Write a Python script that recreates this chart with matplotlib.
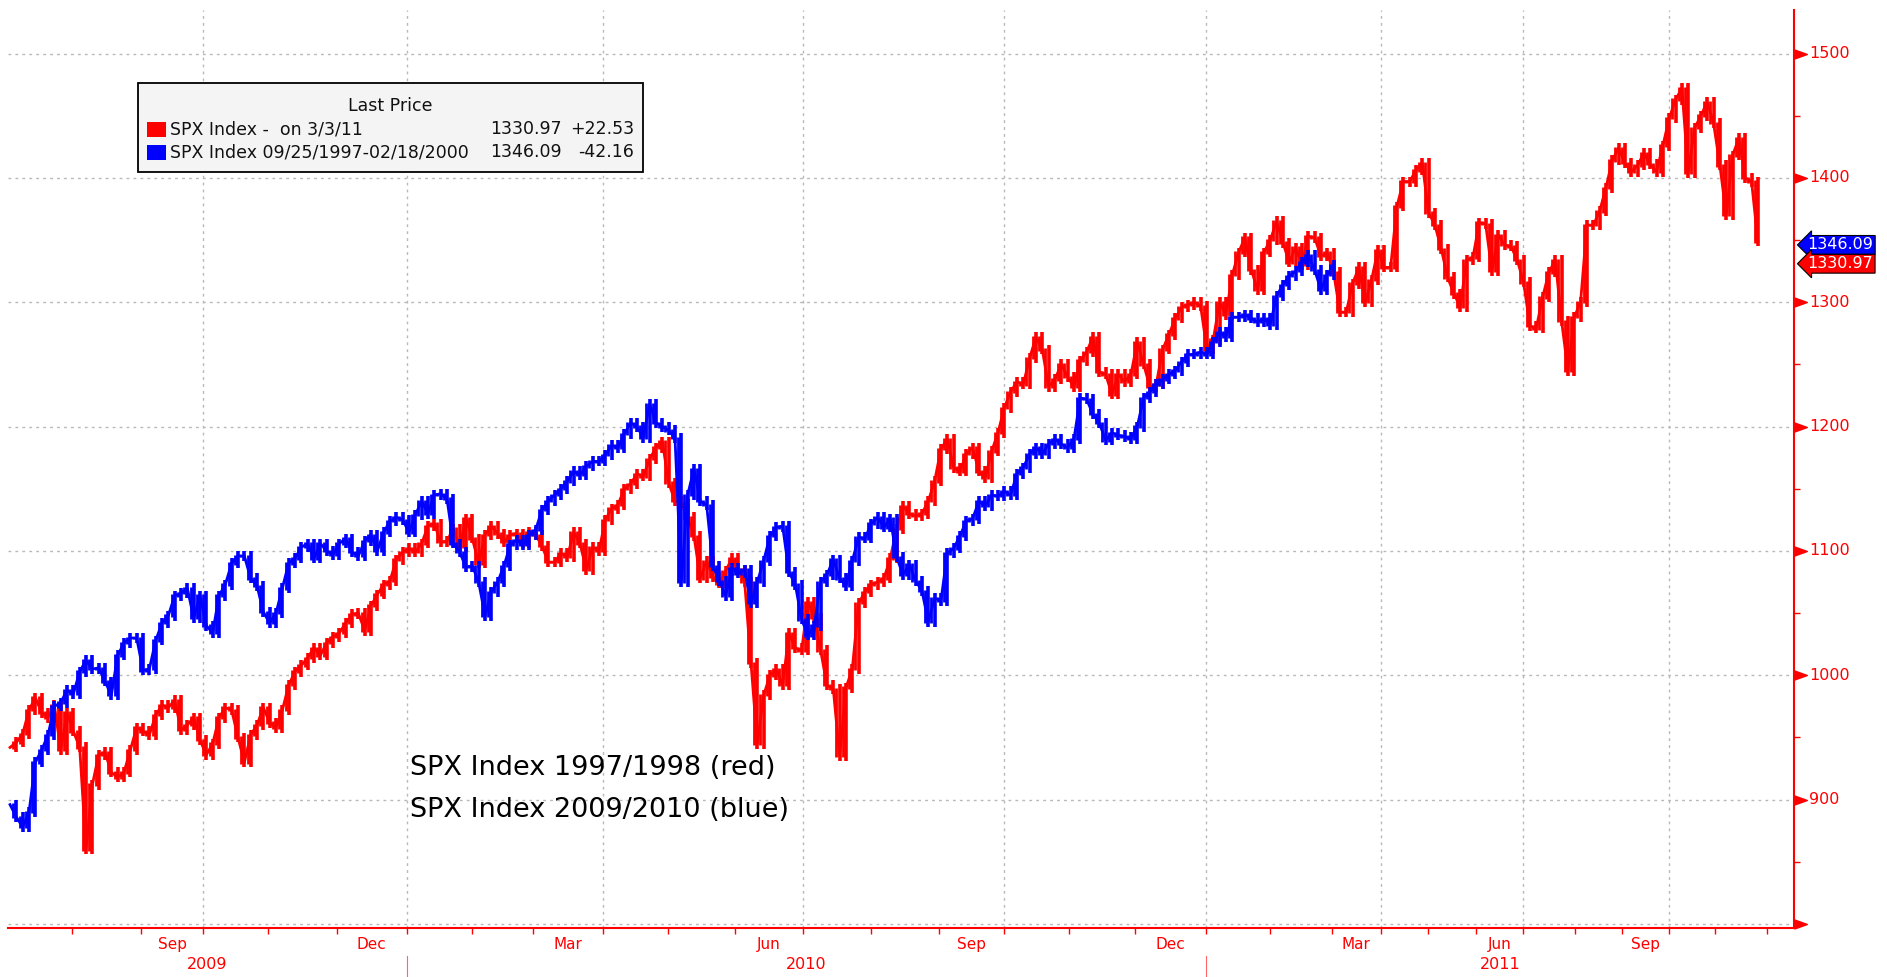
import numpy as np
import matplotlib
matplotlib.use("Agg")
import matplotlib.pyplot as plt
import matplotlib.transforms as mtransforms
from matplotlib.patches import Rectangle

red_vals = [942, 946, 953, 972, 982, 970, 966, 976, 940, 970, 955, 942, 860, 912, 936, 938,
            922, 918, 922, 940, 958, 955, 952, 968, 976, 974, 980, 956, 960, 966, 948, 936,
            945, 966, 974, 972, 950, 930, 952, 960, 974, 962, 958, 972, 992, 1003, 1008, 1014,
            1022, 1016, 1026, 1031, 1034, 1042, 1049, 1050, 1036, 1056, 1065, 1073, 1076, 1093,
            1099, 1102, 1099, 1106, 1120, 1122, 1107, 1108, 1118, 1103, 1126, 1110, 1090, 1113,
            1120, 1114, 1107, 1113, 1114, 1106, 1115, 1113, 1104, 1091, 1091, 1098, 1095, 1115,
            1106, 1085, 1103, 1100, 1125,
            1134, 1137, 1150, 1154, 1162, 1160, 1174, 1183, 1188, 1155, 1140, 1138, 1127, 1112,
            1078, 1092, 1079, 1074, 1084, 1094, 1085, 1075, 1010, 945, 984, 1000, 1005, 992,
            1034, 1022, 1020, 1059, 1046, 1020, 992, 989, 935, 990, 1005, 1058, 1067, 1073, 1075,
            1078, 1094, 1118, 1136, 1130,
            1128, 1130, 1140, 1156, 1182, 1190, 1167, 1164, 1178, 1183, 1164, 1159, 1180, 1195,
            1215, 1228, 1236, 1234, 1255, 1272, 1262, 1232, 1238, 1250, 1240, 1232, 1253, 1260,
            1272, 1244, 1242, 1226, 1242, 1236, 1242, 1268, 1250, 1232, 1234, 1262, 1274, 1287,
            1296, 1298, 1300, 1297, 1262,
            1270, 1300, 1290, 1322, 1340, 1352, 1326, 1310, 1340, 1350, 1365, 1348, 1332, 1344,
            1330, 1353, 1352, 1337, 1340, 1324, 1292, 1292, 1315, 1328, 1300, 1318, 1342, 1328,
            1328, 1377, 1397, 1397, 1406, 1412, 1372, 1362, 1343, 1320, 1307, 1296, 1334, 1336,
            1364, 1363, 1325, 1354, 1346,
            1345, 1334, 1316, 1281, 1279, 1304, 1324, 1334, 1285, 1245, 1288, 1300, 1362, 1362,
            1373, 1392, 1414, 1424, 1412, 1405, 1410, 1420, 1411, 1405, 1426, 1448, 1463, 1472,
            1404, 1440, 1450, 1461, 1444, 1410, 1370, 1418, 1432, 1400, 1397, 1349]

blue_vals = [896, 886, 878, 890, 930, 940, 952, 975, 978, 988, 985, 1003, 1012, 1005, 1006, 995,
             984, 1016, 1026, 1030, 1030, 1004, 1005, 1028, 1042, 1048, 1064, 1066, 1070, 1046,
             1064, 1040, 1034, 1064, 1073, 1090, 1096, 1096, 1078, 1072, 1051, 1042, 1050, 1070,
             1090, 1094, 1103, 1106,
             1094, 1106, 1100, 1097, 1106, 1110, 1099, 1096, 1108, 1113, 1100, 1115, 1124, 1127,
             1125, 1115, 1129, 1140, 1130, 1145, 1146, 1142, 1106, 1099, 1087, 1088, 1075, 1048,
             1067, 1075, 1088, 1105, 1109, 1105, 1113, 1117, 1133, 1140, 1145, 1150, 1156, 1164,
             1161, 1168, 1172, 1172, 1177,
             1185, 1183, 1194, 1203, 1200, 1191, 1218, 1203, 1200, 1197, 1191, 1075, 1145, 1166,
             1140, 1137, 1088, 1076, 1064, 1086, 1082, 1085, 1058, 1075, 1092, 1112, 1119, 1120,
             1083, 1073, 1045, 1032, 1040, 1075, 1081, 1093, 1078, 1072, 1092, 1111, 1110, 1122,
             1127, 1119, 1126, 1095, 1081, 1089,
             1076, 1068, 1043, 1062, 1060, 1098, 1102, 1112, 1124, 1126, 1140, 1136, 1145, 1144,
             1148, 1145, 1162, 1167, 1178, 1183, 1178, 1186, 1190, 1186, 1183, 1190, 1223, 1222,
             1210, 1203, 1189, 1195, 1193, 1192, 1190, 1200, 1223, 1228, 1234, 1238, 1242, 1245,
             1252, 1258, 1258, 1260, 1258,
             1268, 1276, 1272, 1288, 1288, 1290, 1287, 1284, 1287, 1282, 1305, 1314, 1321, 1325,
             1332, 1338, 1326, 1310, 1322, 1330]

# month boundaries on the bar axis (Aug 2009 .. Dec 2011)
month_starts = [9.71, 20.72, 30.55, 40.80, 51.62, 62.61, 72.95, 82.61, 93.64, 103.95, 114.46,
                125.28, 135.91, 146.71, 156.89, 167.16, 177.64, 188.84, 199.01, 208.74, 216.46,
                223.90, 231.43, 238.97, 247.16, 254.60, 261.99, 269.19, 277.40]
month_names = ["Aug", "Sep", "Oct", "Nov", "Dec",
               "Jan", "Feb", "Mar", "Apr", "May", "Jun", "Jul", "Aug", "Sep", "Oct", "Nov", "Dec",
               "Jan", "Feb", "Mar", "Apr", "May", "Jun", "Jul", "Aug", "Sep", "Oct", "Nov", "Dec"]
years = ["2009", "2010", "2011"]
y_ticks = [800, 900, 1000, 1100, 1200, 1300, 1400, 1500]

legend_rows = [("SPX Index -  on 3/3/11", "1330.97", "+22.53", "#ff0000"),
               ("SPX Index 09/25/1997-02/18/2000", "1346.09", "-42.16", "#0000ff")]
last_red = 1330.97
last_blue = 1346.09

RED = "#ff0000"
BLUE = "#0000ff"
GRID = "#b8b8b8"

fig = plt.figure(figsize=(18.87, 9.77), dpi=100)
ax = fig.add_axes([8 / 1887, 1 - 928 / 977, 1786 / 1887, 918 / 977])
xmin, xmax = -0.32, 281.7
ax.set_xlim(xmin, xmax)
ax.set_ylim(796.8, 1535)


def draw_bars(vals, color):
    v = np.asarray(vals, dtype=float)
    x = np.arange(len(v))
    lo = np.minimum(v[:-1], v[1:]) - 4
    hi = np.maximum(v[:-1], v[1:]) + 4
    ax.vlines(x[1:], lo, hi, color=color, lw=2.6, zorder=3)
    ax.vlines(x[1:] - 0.5, lo + 3, hi - 3, color=color, lw=2.0, zorder=3)
    ax.plot(x, v, color=color, lw=2.0, zorder=3)


# grid
for yv in y_ticks:
    ax.axhline(yv, color=GRID, lw=1, ls=(0, (2, 3)), zorder=1)
quarter_starts = [p for p, m in zip(month_starts, month_names) if m in ("Oct", "Jan", "Apr", "Jul")]
for xv in quarter_starts:
    ax.axvline(xv, color=GRID, lw=1, ls=(0, (2, 3)), zorder=1)

draw_bars(red_vals, RED)
draw_bars(blue_vals, BLUE)

# spines
for s in ("left", "top"):
    ax.spines[s].set_visible(False)
for s in ("right", "bottom"):
    ax.spines[s].set_color(RED)
    ax.spines[s].set_linewidth(1.5)

# x axis: month ticks, labels, years
ax.set_xticks(month_starts)
ax.set_xticklabels([])
ax.tick_params(axis="x", colors=RED, length=4, width=1, direction="out")
bt = mtransforms.blended_transform_factory(ax.transData, ax.transAxes)
labelled = ("Sep", "Dec", "Mar", "Jun")
for i, m in enumerate(month_names[:-1]):
    if m in labelled:
        mid = (month_starts[i] + month_starts[i + 1]) / 2
        ax.text(mid, -0.0175, m, transform=bt, ha="center", va="center",
                color=RED, fontsize=11)
jan_pos = [p for p, m in zip(month_starts, month_names) if m == "Jan"]
edges = [xmin] + jan_pos + [xmax]
for i, yr in enumerate(years):
    ax.text((edges[i] + edges[i + 1]) / 2, -0.0395, yr, transform=bt, ha="center",
            va="center", color=RED, fontsize=11.5)
for p in jan_pos:
    ax.plot([p, p], [-0.031, -0.06], transform=bt, color=RED, lw=0.8, alpha=0.6,
            clip_on=False)

# y axis on the right with triangle ticks
ax.yaxis.tick_right()
ax.set_yticks(y_ticks)
ax.set_yticklabels([])
ax.tick_params(axis="y", which="major", length=0)
ax.set_yticks([850, 950, 1050, 1150, 1250, 1350, 1450], minor=True)
ax.tick_params(axis="y", which="minor", colors=RED, length=4, width=1)
yt = mtransforms.blended_transform_factory(ax.transAxes, ax.transData)
tri = [(0, -0.36), (1, 0), (0, 0.36)]
ax.plot([1.0] * len(y_ticks), y_ticks, transform=yt, marker=tri, ms=18.5, ls="none",
        color=RED, clip_on=False, zorder=5)
for yv in y_ticks[1:]:
    ax.text(1.0085, yv, str(yv), transform=yt, ha="left", va="center",
            color=RED, fontsize=11.5)

# last price tags
for val, col in ((last_blue, BLUE), (last_red, RED)):
    ax.text(1.0075, val, f"{val:.2f}", transform=yt, ha="left", va="center",
            color="white", fontsize=11.5, zorder=6,
            bbox=dict(boxstyle="larrow,pad=0.12", fc=col, ec="black", lw=0.8))

# legend box
fig.patches.append(Rectangle((138 / 1887, 1 - 172 / 977), 505 / 1887, 89 / 977,
                             transform=fig.transFigure, fc="#f4f4f4", ec="black", lw=1.3,
                             zorder=5))
fig.text(390 / 1887, 1 - 106 / 977, "Last Price", ha="center", va="center",
         fontsize=12.5, color="#111111", zorder=6)
for i, (name, price, chg, col) in enumerate(legend_rows):
    yc = 129.5 + 23 * i
    fig.patches.append(Rectangle((147 / 1887, 1 - (yc + 7.5) / 977), 19 / 1887, 15 / 977,
                                 transform=fig.transFigure, fc=col, ec="none", zorder=6))
    fig.text(170 / 1887, 1 - yc / 977, name, ha="left", va="center", fontsize=12.5,
             color="#111111", zorder=6)
    fig.text(562 / 1887, 1 - yc / 977, price, ha="right", va="center", fontsize=12.5,
             color="#111111", zorder=6)
    fig.text(634 / 1887, 1 - yc / 977, chg, ha="right", va="center", fontsize=12.5,
             color="#111111", zorder=6)

# annotation
fig.text(410 / 1887, 1 - 768 / 977, "SPX Index 1997/1998 (red)", ha="left", va="center",
         fontsize=19.5, color="black")
fig.text(410 / 1887, 1 - 810 / 977, "SPX Index 2009/2010 (blue)", ha="left", va="center",
         fontsize=19.5, color="black")

fig.savefig("out.png", dpi=100)
